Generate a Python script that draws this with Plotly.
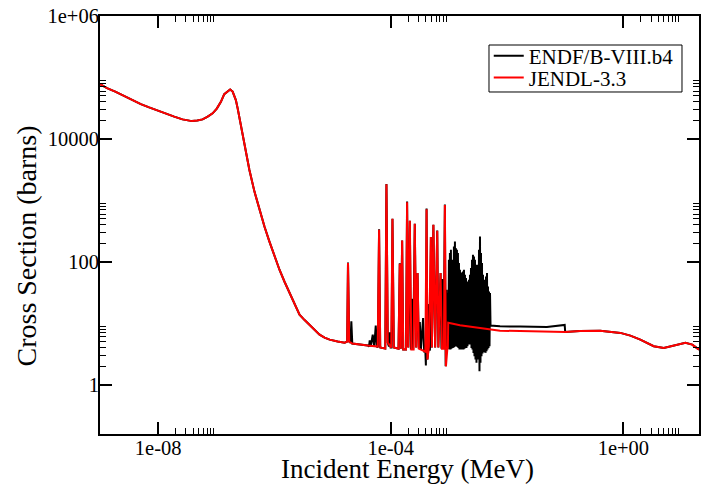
import plotly.graph_objects as go

# ---- shared smooth parts (both evaluations agree) ----
low_E = [1.0e-9, 1.32e-9, 1.87e-9, 2.6e-9, 3.61e-9, 5.03e-9, 7.0e-9, 9.73e-9, 1.36e-8,
         1.89e-8, 2.62e-8, 3.16e-8, 3.81e-8, 4.71e-8, 5.81e-8, 7.0e-8, 8.65e-8, 1.02e-7,
         1.20e-7, 1.37e-7, 1.57e-7, 1.73e-7, 1.91e-7, 2.17e-7, 2.33e-7, 2.49e-7, 2.75e-7,
         3.04e-7, 3.71e-7, 4.53e-7, 5.52e-7, 6.73e-7, 8.20e-7, 1.0e-6, 1.22e-6, 1.49e-6,
         1.82e-6, 2.21e-6, 2.70e-6, 3.30e-6, 4.02e-6, 4.90e-6, 5.97e-6, 7.28e-6, 8.89e-6,
         1.22e-5, 1.61e-5]
low_xs = [7.78e4, 6.7e4, 5.84e4, 4.97e4, 4.29e4, 3.69e4, 3.26e4, 2.89e4, 2.61e4,
          2.31e4, 2.08e4, 1.99e4, 1.95e4, 1.99e4, 2.08e4, 2.29e4, 2.61e4, 3.12e4,
          4.02e4, 5.36e4, 5.84e4, 6.38e4, 5.89e4, 4.29e4, 3.14e4, 2.27e4, 1.40e4,
          8490, 3130, 1390, 701, 376, 214, 126, 74.5, 47.5,
          31.2, 20.1, 13.8, 11.3, 9.5, 7.76, 6.56, 5.86, 5.44,
          5.05, 4.86]

high_E = [0.100, 0.18, 0.40, 0.89, 1.32, 1.96, 3.33, 4.96, 7.37, 11.7, 15.3, 20.0]
high_xs = [7.26, 7.5, 7.6, 6.99, 6.31, 5.44, 4.24, 3.99, 4.35, 4.81, 4.51, 3.74]

# ---- JENDL-3.3 resolved + unresolved region ----
jendl_res_E = [1.78e-5, 1.84e-5, 1.93e-5, 2.18e-5, 4.02e-5, 5.97e-5, 6.30e-5, 6.59e-5,
               8.05e-5, 8.43e-5, 8.89e-5, 1.02e-4, 1.07e-4, 1.13e-4, 1.36e-4, 1.43e-4,
               1.49e-4, 1.57e-4, 1.64e-4, 1.83e-4, 1.91e-4, 2.00e-4, 2.13e-4, 2.26e-4,
               2.47e-4, 2.59e-4, 2.74e-4, 2.89e-4, 3.04e-4, 3.94e-4, 4.13e-4, 4.27e-4,
               4.53e-4, 4.90e-4, 5.10e-4, 5.41e-4, 5.80e-4, 6.30e-4, 6.59e-4, 7.19e-4,
               7.59e-4, 8.20e-4, 8.53e-4, 8.89e-4, 9.44e-4, 9.60e-4]
jendl_res_xs = [5.05, 95.7, 5.05, 4.69, 4.35, 4.19, 332, 4.04,
                3.88, 1830, 4.86, 4.04, 501, 4.04, 3.88, 93,
                3.88, 223, 3.74, 3.74, 935, 4.04, 465, 3.74,
                3.74, 416, 4.04, 65.8, 3.88, 3.47, 719, 2.58,
                4.19, 253, 4.04, 400, 4.04, 320, 4.04, 65.8,
                3.88, 3.88, 845, 2.00, 4.04, 4.04]
jendl_unres_E = [9.73e-4, 1.55e-3, 3.43e-3, 7.57e-3, 0.0168, 0.0453]
jendl_unres_xs = [10.2, 9.35, 8.4, 7.6, 7.48, 7.33]

# ---- ENDF/B-VIII.b4 resolved region ----
endf_res_E = [1.78e-5, 1.84e-5, 1.93e-5, 2.03e-5, 2.10e-5, 2.18e-5, 4.02e-5, 4.23e-5,
              4.35e-5, 4.53e-5, 4.90e-5, 5.20e-5, 5.52e-5, 5.78e-5, 6.00e-5, 6.30e-5,
              6.59e-5, 8.05e-5, 8.43e-5, 8.89e-5, 9.30e-5, 9.62e-5, 9.95e-5, 1.03e-4,
              1.07e-4, 1.13e-4, 1.36e-4, 1.43e-4, 1.49e-4, 1.57e-4, 1.64e-4, 1.83e-4,
              1.91e-4, 2.00e-4, 2.13e-4, 2.22e-4, 2.33e-4, 2.43e-4, 2.59e-4, 2.74e-4,
              2.89e-4, 3.04e-4, 3.16e-4, 3.30e-4, 3.60e-4, 3.75e-4, 3.94e-4, 4.02e-4,
              4.13e-4, 4.27e-4, 4.42e-4, 4.58e-4, 4.72e-4, 4.90e-4, 5.10e-4, 5.41e-4,
              5.80e-4, 6.30e-4, 6.59e-4, 7.19e-4, 7.45e-4, 7.80e-4, 8.10e-4, 8.53e-4,
              8.80e-4, 9.14e-4, 9.40e-4]
endf_res_xs = [5.05, 97.7, 5.05, 4.86, 10.8, 4.69, 4.35, 4.19,
               5.30, 4.19, 6.56, 4.19, 9.18, 4.19, 4.10, 340,
               4.04, 3.88, 1850, 4.86, 4.19, 7.14, 4.04, 4.04,
               501, 4.04, 3.88, 95, 3.88, 223, 3.74, 3.74,
               960, 4.04, 465, 3.74, 25.2, 3.74, 416, 4.04,
               65.8, 3.88, 10.5, 3.74, 12.2, 3.47, 3.47, 2.06,
               740, 2.58, 3.6, 20.7, 3.6, 253, 4.04, 400,
               4.04, 325, 4.04, 65.8, 3.88, 52.6, 3.88, 860,
               2.00, 35.2, 3.88]

# dense resonance forest of ENDF (peaks and valleys)
endf_dense_peak_E = [9.62e-4, 1.001e-3, 1.041e-3, 1.083e-3, 1.127e-3, 1.173e-3, 1.220e-3,
                     1.270e-3, 1.321e-3, 1.375e-3, 1.430e-3, 1.489e-3, 1.549e-3, 1.612e-3,
                     1.677e-3, 1.745e-3, 1.816e-3, 1.889e-3, 1.966e-3, 2.045e-3, 2.128e-3,
                     2.214e-3, 2.304e-3, 2.397e-3, 2.494e-3, 2.595e-3, 2.700e-3, 2.809e-3,
                     2.923e-3, 3.041e-3, 3.164e-3, 3.292e-3, 3.425e-3, 3.564e-3, 3.708e-3,
                     3.858e-3, 4.014e-3, 4.176e-3, 4.345e-3, 4.521e-3, 4.704e-3, 4.898e-3,
                     5.094e-3]
endf_dense_peak_xs = [31.2, 108, 139, 157, 108, 95.7, 178, 214, 167, 157, 139, 95.7,
                      74.5, 65.8, 67.3, 69.8, 74.5, 61.8, 54.6, 48.1, 45.3, 51.3, 61.8,
                      79.3, 108, 130, 122, 108, 89.7, 84.1, 89.7, 157, 258, 139, 95.7,
                      61.8, 51.3, 45.3, 57.9, 65.8, 39.9, 33.1, 31.2]
endf_dense_valley_E = [9.81e-4, 1.021e-3, 1.062e-3, 1.105e-3, 1.150e-3, 1.196e-3, 1.244e-3,
                       1.295e-3, 1.347e-3, 1.402e-3, 1.459e-3, 1.519e-3, 1.580e-3, 1.644e-3,
                       1.711e-3, 1.780e-3, 1.852e-3, 1.927e-3, 2.005e-3, 2.086e-3, 2.171e-3,
                       2.258e-3, 2.350e-3, 2.445e-3, 2.544e-3, 2.647e-3, 2.754e-3, 2.865e-3,
                       2.981e-3, 3.102e-3, 3.227e-3, 3.358e-3, 3.494e-3, 3.635e-3, 3.782e-3,
                       3.935e-3, 4.094e-3, 4.260e-3, 4.432e-3, 4.611e-3, 4.798e-3, 4.996e-3]
endf_dense_valley_xs = [4.24, 3.74, 3.74, 3.85, 3.99, 3.99, 4.14, 4.24, 4.24, 4.14,
                        3.99, 3.74, 3.74, 3.74, 3.74, 3.74, 3.85, 3.99, 3.99, 4.24,
                        4.51, 4.81, 4.51, 3.99, 3.74, 3.31, 2.91, 2.58, 2.28, 2.58,
                        2.91, 1.66, 2.28, 2.91, 3.22, 3.38, 3.52, 3.31, 3.52, 3.74,
                        3.99, 4.24]
endf_unres_E = [5.2e-3, 7.57e-3, 0.0168, 0.0484, 0.098]
endf_unres_xs = [9.2, 8.95, 8.85, 8.75, 9.42]

x_tick_vals = [1e-8, 1e-4, 1e0]
x_tick_text = ["1e-08", "1e-04", "1e+00"]
y_tick_vals = [1, 100, 1e4, 1e6]
y_tick_text = ["1", "100", "10000", "1e+06"]
minor_digits = [2, 3, 4, 5, 6, 7, 8, 9]

# ---- assemble series ----
dense_E, dense_xs = [], []
for i, (pe, px) in enumerate(zip(endf_dense_peak_E, endf_dense_peak_xs)):
    dense_E.append(pe)
    dense_xs.append(px)
    if i < len(endf_dense_valley_E):
        dense_E.append(endf_dense_valley_E[i])
        dense_xs.append(endf_dense_valley_xs[i])

endf_E = low_E + endf_res_E + dense_E + endf_unres_E + high_E
endf_xs = low_xs + endf_res_xs + dense_xs + endf_unres_xs + high_xs
jendl_E = low_E + jendl_res_E + jendl_unres_E + high_E
jendl_xs = low_xs + jendl_res_xs + jendl_unres_xs + high_xs

x_minor = [d * v for v in x_tick_vals for d in minor_digits]
y_minor = [d * v for v in y_tick_vals for d in minor_digits]

FONT = "Liberation Serif"

fig = go.Figure()
fig.add_trace(go.Scatter(x=endf_E, y=endf_xs, mode="lines", name="ENDF/B-VIII.b4",
                         line=dict(color="black", width=2), legend="legend"))
fig.add_trace(go.Scatter(x=jendl_E, y=jendl_xs, mode="lines", name="JENDL-3.3",
                         line=dict(color="red", width=2), legend="legend2"))

axis_common = dict(type="log", showgrid=False, zeroline=False, showline=True,
                   linecolor="black", linewidth=2, mirror="ticks", ticks="inside",
                   ticklen=12, tickwidth=1.5, tickcolor="black",
                   tickfont=dict(family=FONT, size=20.5, color="black"))

fig.update_xaxes(**axis_common, range=[-9, 1.301], ticklabelstandoff=-6,
                 tickmode="array", tickvals=x_tick_vals, ticktext=x_tick_text,
                 minor=dict(tickmode="array", tickvals=x_minor, ticks="inside",
                            ticklen=6, tickwidth=1, tickcolor="black"))
fig.update_yaxes(**axis_common, range=[-0.8, 6], ticklabelstandoff=-5,
                 tickmode="array", tickvals=y_tick_vals, ticktext=y_tick_text,
                 minor=dict(tickmode="array", tickvals=y_minor, ticks="inside",
                            ticklen=6, tickwidth=1, tickcolor="black"))

leg_common = dict(xanchor="left", yanchor="middle", bgcolor="rgba(0,0,0,0)",
                  borderwidth=0, font=dict(family=FONT, size=21, color="black"),
                  itemwidth=30)

fig.update_layout(
    width=708, height=485,
    margin=dict(l=100, r=9, t=16, b=51, autoexpand=False),
    paper_bgcolor="white", plot_bgcolor="white",
    showlegend=True,
    legend=dict(x=0.649, y=0.904, **leg_common),
    legend2=dict(x=0.649, y=0.852, **leg_common),
    shapes=[dict(type="rect", xref="paper", yref="paper", x0=0.6494, x1=0.9716,
                 y0=0.8182, y1=0.9306, line=dict(color="black", width=1),
                 fillcolor="rgba(0,0,0,0)", layer="above")],
    annotations=[
        dict(text="Incident Energy (MeV)", xref="paper", yref="paper",
             x=0.5134, y=-0.0835, xanchor="center", yanchor="middle", showarrow=False,
             font=dict(family=FONT, size=27, color="black")),
        dict(text="Cross Section (barns)", xref="paper", yref="paper",
             x=-0.1235, y=0.4486, xanchor="center", yanchor="middle", showarrow=False,
             textangle=-90, font=dict(family=FONT, size=28, color="black")),
    ],
)

fig.write_html("out.html", config={"displayModeBar": False},
               post_script="document.body.style.margin='0';")
